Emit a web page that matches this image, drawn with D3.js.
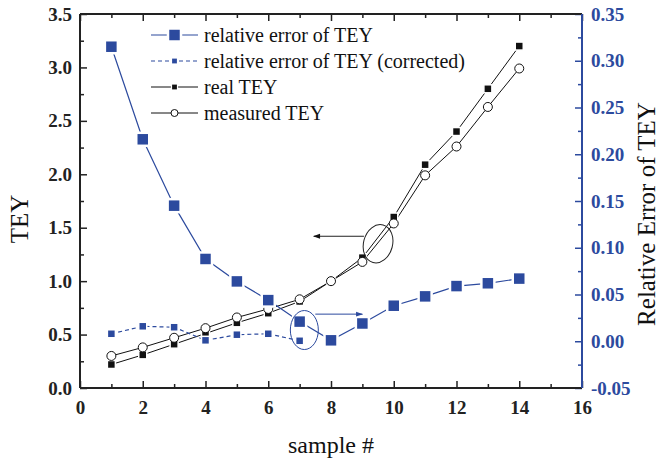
<!DOCTYPE html>
<html>
<head>
<meta charset="utf-8">
<script src="https://cdn.jsdelivr.net/npm/d3@7"></script>
<style>
  body { margin: 0; background: #fff; }
</style>
</head>
<body>
<div id="chart"></div>
<script>
// sample numbers
var samples = [1, 2, 3, 4, 5, 6, 7, 8, 9, 10, 11, 12, 13, 14];
// TEY values (left axis)
var realTEY = [0.22, 0.31, 0.41, 0.51, 0.61, 0.70, 0.81, 1.00, 1.22, 1.60, 2.09, 2.40, 2.80, 3.20];
var measuredTEY = [0.30, 0.38, 0.47, 0.56, 0.66, 0.74, 0.83, 1.00, 1.18, 1.54, 1.99, 2.26, 2.63, 2.99];
// relative error (right axis)
var relError = [0.315, 0.216, 0.145, 0.088, 0.064, 0.044, 0.021, 0.001, 0.019, 0.038, 0.048, 0.059, 0.062, 0.067];
var relErrorCorrected = [0.008, 0.016, 0.015, 0.001, 0.007, 0.008, 0.0005];
var legendLabels = ["relative error of TEY", "relative error of TEY (corrected)", "real TEY", "measured TEY"];

var blue = "#2c4a9e";
var width = 662, height = 462;
var margin = {left: 80, right: 80, top: 14, bottom: 74};
var serif = "'Liberation Serif', 'DejaVu Serif', serif";

var svg = d3.select("#chart").append("svg")
  .attr("width", width).attr("height", height)
  .attr("font-family", serif);

var x = d3.scaleLinear().domain([0, 16]).range([margin.left, width - margin.right]);
var yL = d3.scaleLinear().domain([0, 3.5]).range([height - margin.bottom, margin.top]);
var yR = d3.scaleLinear().domain([-0.05, 0.35]).range([height - margin.bottom, margin.top]);

var x0 = x.range()[0], x1 = x.range()[1], yb = yL.range()[0], yt = yL.range()[1];

// axes
function styleAxis(g, color, size) {
  g.attr("font-family", serif);
  g.select(".domain").remove();
  g.selectAll("line").attr("stroke", color).attr("stroke-width", 1.5);
  g.selectAll("text").attr("fill", color).attr("font-size", size).attr("font-weight", "bold");
}

// bottom
var gx = svg.append("g").attr("transform", "translate(0," + yb + ")")
  .call(d3.axisBottom(x).tickValues(d3.range(0, 17, 2)).tickSize(-7).tickPadding(12));
styleAxis(gx, "#222", 19);
gx.selectAll("text").attr("dy", "0.75em");
svg.append("g").attr("transform", "translate(0," + yb + ")")
  .call(d3.axisBottom(x).tickValues(d3.range(1, 16, 2)).tickSize(-4).tickFormat(""))
  .call(function(g) { styleAxis(g, "#222", 19); });
// top
svg.append("g").attr("transform", "translate(0," + yt + ")")
  .call(d3.axisTop(x).tickValues(d3.range(0, 17, 2)).tickSize(-7).tickFormat(""))
  .call(function(g) { styleAxis(g, "#222", 19); });
svg.append("g").attr("transform", "translate(0," + yt + ")")
  .call(d3.axisTop(x).tickValues(d3.range(1, 16, 2)).tickSize(-4).tickFormat(""))
  .call(function(g) { styleAxis(g, "#222", 19); });
// left
var gl = svg.append("g").attr("transform", "translate(" + x0 + ",0)")
  .call(d3.axisLeft(yL).tickValues(d3.range(0, 3.51, 0.5)).tickSize(-7).tickPadding(8).tickFormat(d3.format(".1f")));
styleAxis(gl, "#222", 19);
svg.append("g").attr("transform", "translate(" + x0 + ",0)")
  .call(d3.axisLeft(yL).tickValues(d3.range(0.25, 3.5, 0.5)).tickSize(-4).tickFormat(""))
  .call(function(g) { styleAxis(g, "#222", 19); });
// right
var gr = svg.append("g").attr("transform", "translate(" + x1 + ",0)")
  .call(d3.axisRight(yR).tickValues(d3.range(-0.05, 0.351, 0.05)).tickSize(-7).tickPadding(9).tickFormat(d3.format(".2f")));
styleAxis(gr, blue, 19);
gr.selectAll("text").text(function(d) { return d3.format(".2f")(d).replace("−", "-"); });
svg.append("g").attr("transform", "translate(" + x1 + ",0)")
  .call(d3.axisRight(yR).tickValues(d3.range(-0.025, 0.35, 0.05)).tickSize(-4).tickFormat(""))
  .call(function(g) { styleAxis(g, blue, 19); });

// frame lines
svg.append("line").attr("x1", x0).attr("x2", x1).attr("y1", yb).attr("y2", yb).attr("stroke", "#222").attr("stroke-width", 2);
svg.append("line").attr("x1", x0).attr("x2", x1).attr("y1", yt).attr("y2", yt).attr("stroke", "#222").attr("stroke-width", 2);
svg.append("line").attr("x1", x0).attr("x2", x0).attr("y1", yt).attr("y2", yb).attr("stroke", "#222").attr("stroke-width", 2);
svg.append("line").attr("x1", x1).attr("x2", x1).attr("y1", yt).attr("y2", yb).attr("stroke", blue).attr("stroke-width", 2);

// axis titles
svg.append("text").attr("x", (x0 + x1) / 2).attr("y", 453).attr("text-anchor", "middle")
  .attr("font-size", 24).attr("fill", "#111").text("sample #");
svg.append("text").attr("transform", "translate(28,219) rotate(-90)").attr("text-anchor", "middle")
  .attr("font-size", 25).attr("fill", "#111").text("TEY");
svg.append("text").attr("transform", "translate(655,214) rotate(-90)").attr("text-anchor", "middle")
  .attr("font-size", 25).attr("fill", "#111").text("Relative Error of TEY");

// series
var lineL = d3.line().x(function(d, i) { return x(samples[i]); }).y(function(d) { return yL(d); });
var lineR = d3.line().x(function(d, i) { return x(samples[i]); }).y(function(d) { return yR(d); });

svg.append("path").attr("d", lineL(realTEY)).attr("fill", "none").attr("stroke", "#111").attr("stroke-width", 1);
svg.append("path").attr("d", lineL(measuredTEY)).attr("fill", "none").attr("stroke", "#111").attr("stroke-width", 1);
svg.append("path").attr("d", lineR(relErrorCorrected)).attr("fill", "none").attr("stroke", blue)
  .attr("stroke-width", 1.2).attr("stroke-dasharray", "4,3");
svg.append("path").attr("d", lineR(relError)).attr("fill", "none").attr("stroke", blue).attr("stroke-width", 1.2);

function squares(data, scale, size, fill, gap) {
  svg.append("g").selectAll("rect").data(data).enter().append("rect")
    .attr("x", function(d, i) { return x(samples[i]) - size / 2; })
    .attr("y", function(d) { return scale(d) - size / 2; })
    .attr("width", size).attr("height", size)
    .attr("fill", fill).attr("stroke", "#fff").attr("stroke-width", gap);
}
squares(realTEY, yL, 8, "#111", 1.5);
svg.append("g").selectAll("circle").data(measuredTEY).enter().append("circle")
  .attr("cx", function(d, i) { return x(samples[i]); })
  .attr("cy", function(d) { return yL(d); })
  .attr("r", 4.5).attr("fill", "#fff").attr("stroke", "#111").attr("stroke-width", 1);
squares(relErrorCorrected, yR, 8, blue, 1.5);
squares(relError, yR, 13, blue, 2.5);

// annotations
svg.append("defs").selectAll("marker").data([["arrowK", "#111"], ["arrowB", blue]]).enter().append("marker")
  .attr("id", function(d) { return d[0]; }).attr("viewBox", "0 0 10 10").attr("refX", 9).attr("refY", 5)
  .attr("markerWidth", 9).attr("markerHeight", 7).attr("markerUnits", "userSpaceOnUse").attr("orient", "auto")
  .append("path").attr("d", "M0,1.5L10,5L0,8.5Z").attr("fill", function(d) { return d[1]; });

svg.append("ellipse").attr("cx", x(9.5)).attr("cy", yL(1.35)).attr("rx", 14.5).attr("ry", 19.5)
  .attr("transform", "rotate(15," + x(9.5) + "," + yL(1.35) + ")")
  .attr("fill", "none").attr("stroke", "#222").attr("stroke-width", 1);
svg.append("line").attr("x1", x(9.05)).attr("y1", yL(1.42)).attr("x2", x(7.45)).attr("y2", yL(1.42))
  .attr("stroke", "#222").attr("stroke-width", 1).attr("marker-end", "url(#arrowK)");

svg.append("ellipse").attr("cx", x(7.15)).attr("cy", yR(0.012)).attr("rx", 14).attr("ry", 19.5)
  .attr("fill", "none").attr("stroke", blue).attr("stroke-width", 1);
svg.append("line").attr("x1", x(7.5)).attr("y1", yR(0.029)).attr("x2", x(9.0)).attr("y2", yR(0.029))
  .attr("stroke", blue).attr("stroke-width", 1).attr("marker-end", "url(#arrowB)");

// legend
var legend = svg.append("g");
var lx0 = 151, lx1 = 198, ly0 = 35, dy = 26;
legendLabels.forEach(function(label, i) {
  var y = ly0 + i * dy;
  var col = i < 2 ? blue : "#111";
  legend.append("line").attr("x1", lx0).attr("x2", lx1).attr("y1", y).attr("y2", y)
    .attr("stroke", col).attr("stroke-width", i < 2 ? 1.2 : 1)
    .attr("stroke-dasharray", i === 1 ? "4,3" : null);
  var cx = (lx0 + lx1) / 2;
  if (i === 3) {
    legend.append("circle").attr("cx", cx).attr("cy", y).attr("r", 3.5)
      .attr("fill", "#fff").attr("stroke", "#111");
  } else {
    var s = i === 0 ? 13 : 6;
    legend.append("rect").attr("x", cx - s / 2).attr("y", y - s / 2).attr("width", s).attr("height", s)
      .attr("fill", col).attr("stroke", "#fff").attr("stroke-width", i === 0 ? 2.5 : 1.2);
  }
  legend.append("text").attr("x", 204).attr("y", y).attr("dy", "0.35em")
    .attr("font-size", 20).attr("fill", "#111").text(label);
});
</script>
</body>
</html>
